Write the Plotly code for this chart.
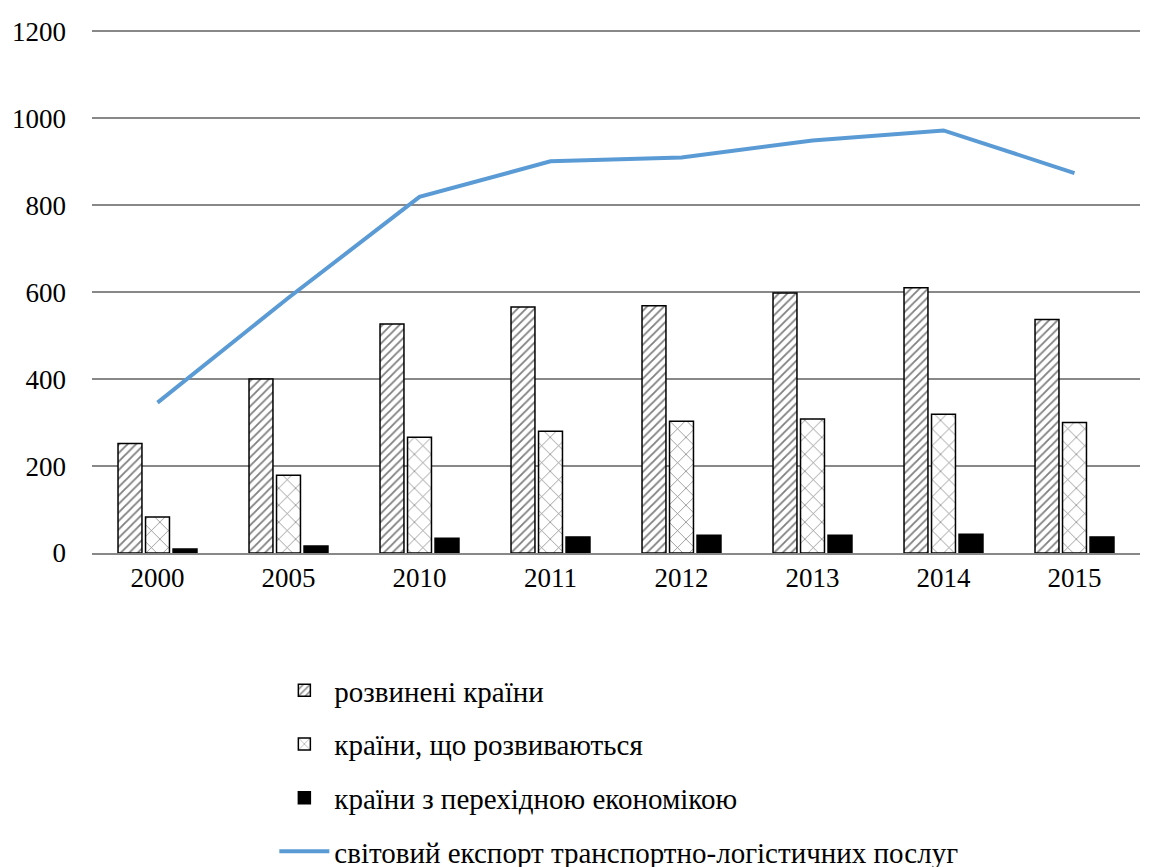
import plotly.graph_objects as go

years = ["2000", "2005", "2010", "2011", "2012", "2013", "2014", "2015"]
developed = [252, 400, 527, 566, 569, 598, 610, 537]
developing = [83, 179, 266, 280, 303, 308, 319, 300]
transition = [9, 16, 34, 37, 41, 41, 43, 37]
world_export = [346, 587, 819, 901, 910, 949, 972, 874]

names = [
    "розвинені країни",
    "країни, що розвиваються",
    "країни з перехідною економікою",
    "світовий експорт транспортно-логістичних послуг",
]

FONT = "Liberation Serif, Times New Roman, serif"

fig = go.Figure()
fig.add_trace(go.Bar(
    x=years, y=developed, name=names[0], legendgroup="a",
    marker=dict(color="white", line=dict(color="black", width=1.5),
                pattern=dict(shape="/", fgcolor="black", size=6, solidity=0.3)),
))
fig.add_trace(go.Bar(
    x=years, y=developing, name=names[1], legendgroup="b",
    marker=dict(color="white", line=dict(color="black", width=1.5),
                pattern=dict(shape="x", fgcolor="black", size=12, solidity=0.12)),
))
fig.add_trace(go.Bar(
    x=years, y=transition, name=names[2], legendgroup="c",
    marker=dict(color="black", line=dict(color="black", width=1.5)),
))
fig.add_trace(go.Scatter(
    x=years, y=world_export, name=names[3], legendgroup="d", mode="lines",
    line=dict(color="#5B9BD5", width=4),
))

fig.update_layout(
    width=1154, height=867,
    margin=dict(l=84, r=22, t=22, b=322, autoexpand=False),
    paper_bgcolor="white", plot_bgcolor="white",
    barmode="group", bargap=0.37, bargroupgap=0.13,
    font=dict(family=FONT, size=27, color="black"),
    showlegend=True,
    legend=dict(x=0.174, y=-0.214, xanchor="left", yanchor="top",
                orientation="v", traceorder="grouped", tracegroupgap=13,
                itemwidth=50,
                font=dict(family=FONT, size=29, color="black"),
                bgcolor="rgba(0,0,0,0)"),
    xaxis=dict(showgrid=False, showline=True, linecolor="#888888", linewidth=1.5,
               ticks="", automargin=False, tickfont=dict(family=FONT, size=27)),
    yaxis=dict(range=[0, 1203], tickvals=[0, 200, 400, 600, 800, 1000, 1200],
               showgrid=True, gridcolor="#888888", automargin=False,
               gridwidth=1.5, showline=False, zeroline=False,
               ticks="", tickfont=dict(family=FONT, size=27), ticklabelstandoff=25),
)

fig.write_html("out.html")
